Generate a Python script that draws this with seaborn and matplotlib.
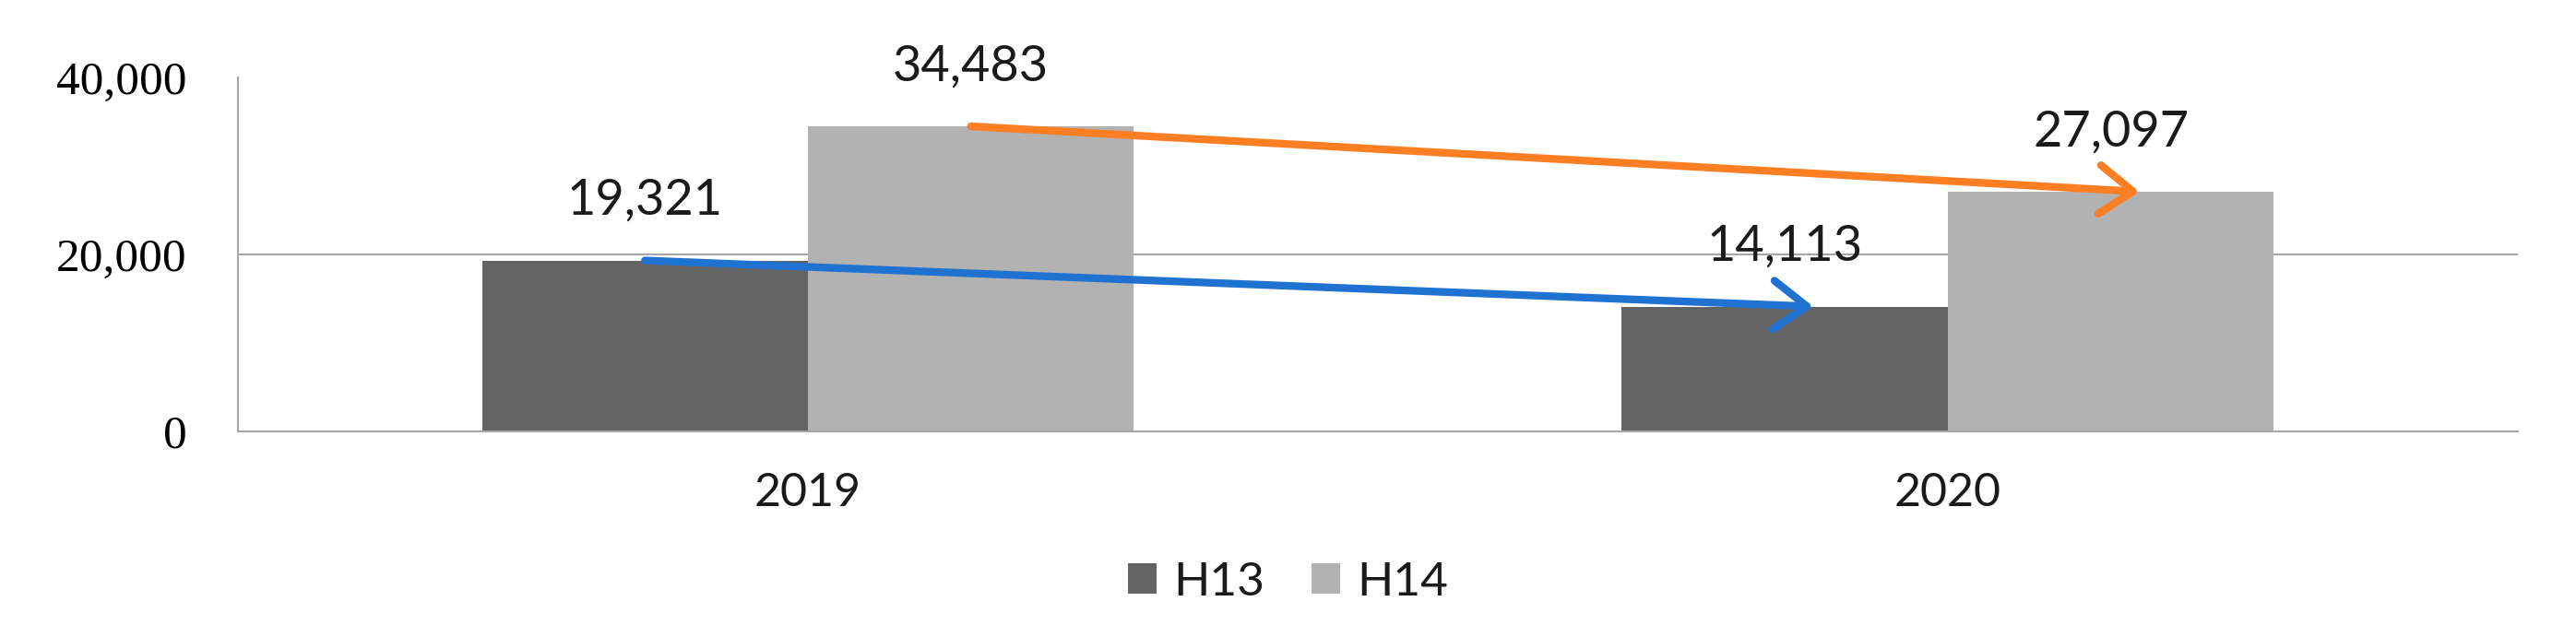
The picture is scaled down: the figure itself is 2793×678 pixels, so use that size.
import matplotlib
matplotlib.use("Agg")
import matplotlib.pyplot as plt
from matplotlib.patches import Patch
import seaborn as sns
import pandas as pd

years = ["2019", "2020"]
series = ["H13", "H14"]
h13_values = [19321, 14113]
h14_values = [34483, 27097]
y_ticks = [0, 20000, 40000]

bar_colors = ["#636363", "#b2b2b2"]
arrow_colors = ["#1f72d0", "#fd7e23"]

df = pd.DataFrame({
    "year": years * 2,
    "series": [series[0]] * 2 + [series[1]] * 2,
    "value": h13_values + h14_values,
})

sns.set_style("white")
sans = ["Lato", "DejaVu Sans"]
serif = ["Liberation Serif", "DejaVu Serif"]

fig = plt.figure(figsize=(27.93, 6.78), dpi=100)
ax = fig.add_axes([0.0924, 0.3097, 0.885, 0.5663])

sns.barplot(data=df, x="year", y="value", hue="series", palette=bar_colors,
            width=0.572, saturation=1, linewidth=0, ax=ax, legend=False)

ax.set_xlim(-0.5, 1.5)
ax.set_ylim(0, 40000)
ax.set_xlabel("")
ax.set_ylabel("")

# grid line at 20,000 only
ax.axhline(20000, color="#a6a6a6", lw=1.5, zorder=0)

for side in ["top", "right"]:
    ax.spines[side].set_visible(False)
for side in ["left", "bottom"]:
    ax.spines[side].set_color("#a6a6a6")
    ax.spines[side].set_linewidth(1.5)

ax.set_yticks(y_ticks)
ax.set_yticklabels([f"{v:,}" for v in y_ticks], family=serif, fontsize=37,
                   color="black")
ax.tick_params(axis="y", length=6, width=1.5, color="#a6a6a6", pad=34)

ax.set_xticks([0, 1])
ax.set_xticklabels(years, family=sans, fontsize=36, color="#1a1a1a")
ax.tick_params(axis="x", length=0, pad=32)
ax.set_xticks([-0.5, 0.5, 1.5], minor=True)
ax.tick_params(axis="x", which="minor", length=12, width=1.5, color="#a6a6a6")

# bars in drawing order: H13 2019, H13 2020, H14 2019, H14 2020
bars = ax.patches[:4]
centers = [b.get_x() + b.get_width() / 2 for b in bars]
heights = [b.get_height() for b in bars]

for cx, h in zip(centers, heights):
    ax.annotate(f"{int(round(h)):,}", (cx, h), xytext=(0, 47),
                textcoords="offset points", ha="center", va="center",
                family=sans, fontsize=39, color="#1a1a1a")

# trend arrows between the two years of each series
for i, color in enumerate(arrow_colors):
    start = (centers[2 * i], heights[2 * i])
    end = (centers[2 * i + 1] + 0.025, heights[2 * i + 1])
    ax.annotate("", xy=end, xytext=start,
                arrowprops=dict(arrowstyle="->,head_length=2.6,head_width=1.9",
                                color=color, lw=6, shrinkA=0, shrinkB=0))

handles = [Patch(facecolor=c, edgecolor="none") for c in bar_colors]
fig.legend(handles, series, loc="center", bbox_to_anchor=(0.5, 0.068),
           ncol=2, frameon=False, prop={"family": sans, "size": 37},
           handlelength=0.6, handleheight=0.6, handletextpad=0.35,
           columnspacing=1.0, labelcolor="#1a1a1a")

fig.savefig("out.png", dpi=100)
